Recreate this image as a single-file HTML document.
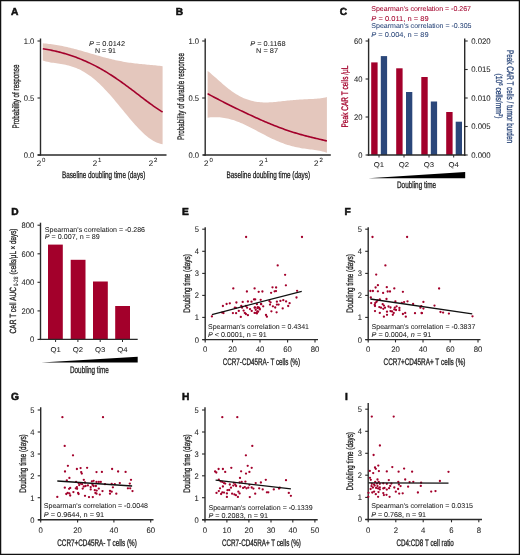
<!DOCTYPE html>
<html><head><meta charset="utf-8"><style>
html,body{margin:0;padding:0;background:#fff;}
body{width:520px;height:555px;overflow:hidden;}
svg{display:block;font-family:"Liberation Sans",sans-serif;will-change:transform;text-rendering:geometricPrecision;}
</style></head><body>
<svg width="520" height="555" viewBox="0 0 520 555">
<rect x="0" y="0" width="520" height="555" fill="#fff"/>
<text x="11" y="15.2" font-size="10.2" font-weight="bold" fill="#111" stroke="#111" stroke-width="0.55">A</text>
<polygon points="42.80,43.24 44.32,43.39 45.83,43.54 47.35,43.71 48.87,43.89 50.38,44.08 51.90,44.28 53.42,44.50 54.93,44.74 56.45,44.98 57.96,45.25 59.48,45.52 61.00,45.81 62.51,46.11 64.03,46.43 65.55,46.75 67.06,47.09 68.58,47.45 70.10,47.81 71.61,48.18 73.13,48.57 74.65,48.96 76.16,49.36 77.68,49.77 79.19,50.19 80.71,50.61 82.23,51.04 83.74,51.47 85.26,51.91 86.78,52.35 88.29,52.79 89.81,53.23 91.33,53.67 92.84,54.12 94.36,54.56 95.88,55.00 97.39,55.43 98.91,55.86 100.43,56.29 101.94,56.71 103.46,57.13 104.97,57.54 106.49,57.93 108.01,58.33 109.52,58.71 111.04,59.08 112.56,59.44 114.07,59.79 115.59,60.13 117.11,60.46 118.62,60.78 120.14,61.08 121.66,61.37 123.17,61.65 124.69,61.92 126.21,62.17 127.72,62.41 129.24,62.64 130.75,62.85 132.27,63.06 133.79,63.25 135.30,63.44 136.82,63.61 138.34,63.78 139.85,63.93 141.37,64.08 142.89,64.22 144.40,64.36 145.92,64.50 147.44,64.63 148.95,64.76 150.47,64.90 151.98,65.03 153.50,65.18 155.02,65.33 156.53,65.49 158.05,65.66 159.57,65.85 161.08,66.06 162.60,66.28 162.60,144.20 161.08,143.95 159.57,143.58 158.05,143.10 156.53,142.49 155.02,141.78 153.50,140.97 151.98,140.05 150.47,139.04 148.95,137.95 147.44,136.77 145.92,135.51 144.40,134.17 142.89,132.77 141.37,131.31 139.85,129.78 138.34,128.21 136.82,126.58 135.30,124.91 133.79,123.21 132.27,121.47 130.75,119.70 129.24,117.90 127.72,116.09 126.21,114.26 124.69,112.42 123.17,110.58 121.66,108.73 120.14,106.89 118.62,105.05 117.11,103.22 115.59,101.41 114.07,99.61 112.56,97.84 111.04,96.09 109.52,94.37 108.01,92.68 106.49,91.02 104.97,89.40 103.46,87.82 101.94,86.29 100.43,84.79 98.91,83.35 97.39,81.95 95.88,80.60 94.36,79.31 92.84,78.06 91.33,76.87 89.81,75.74 88.29,74.66 86.78,73.64 85.26,72.68 83.74,71.77 82.23,70.91 80.71,70.11 79.19,69.37 77.68,68.68 76.16,68.04 74.65,67.45 73.13,66.91 71.61,66.42 70.10,65.97 68.58,65.56 67.06,65.19 65.55,64.86 64.03,64.55 62.51,64.27 61.00,64.01 59.48,63.77 57.96,63.54 56.45,63.32 54.93,63.10 53.42,62.87 51.90,62.63 50.38,62.38 48.87,62.10 47.35,61.78 45.83,61.42 44.32,61.01 42.80,60.54" fill="#e4c7bd"/>
<polyline points="42.80,48.78 44.32,49.01 45.83,49.25 47.35,49.51 48.87,49.79 50.38,50.08 51.90,50.38 53.42,50.70 54.93,51.04 56.45,51.39 57.96,51.76 59.48,52.14 61.00,52.54 62.51,52.95 64.03,53.38 65.55,53.82 67.06,54.28 68.58,54.75 70.10,55.24 71.61,55.75 73.13,56.27 74.65,56.81 76.16,57.36 77.68,57.93 79.19,58.52 80.71,59.13 82.23,59.75 83.74,60.39 85.26,61.05 86.78,61.72 88.29,62.42 89.81,63.13 91.33,63.86 92.84,64.61 94.36,65.38 95.88,66.16 97.39,66.96 98.91,67.79 100.43,68.63 101.94,69.49 103.46,70.36 104.97,71.26 106.49,72.17 108.01,73.11 109.52,74.06 111.04,75.02 112.56,76.01 114.07,77.01 115.59,78.02 117.11,79.05 118.62,80.10 120.14,81.16 121.66,82.24 123.17,83.33 124.69,84.43 126.21,85.54 127.72,86.66 129.24,87.79 130.75,88.93 132.27,90.08 133.79,91.23 135.30,92.39 136.82,93.55 138.34,94.71 139.85,95.88 141.37,97.04 142.89,98.20 144.40,99.35 145.92,100.50 147.44,101.63 148.95,102.76 150.47,103.87 151.98,104.97 153.50,106.04 155.02,107.10 156.53,108.14 158.05,109.14 159.57,110.12 161.08,111.07 162.60,111.98" fill="none" stroke="#a3002b" stroke-width="1.6"/>
<line x1="40.50" y1="38.50" x2="40.50" y2="155.65" stroke="#2a2a2a" stroke-width="1.4"/>
<line x1="37.50" y1="41.00" x2="40.50" y2="41.00" stroke="#2a2a2a" stroke-width="1.1"/>
<text x="34.30" y="43.90" font-size="8.1" text-anchor="end" fill="#222" textLength="10.58" lengthAdjust="spacingAndGlyphs"  stroke="#222" stroke-width="0.05">1.0</text>
<line x1="37.50" y1="98.00" x2="40.50" y2="98.00" stroke="#2a2a2a" stroke-width="1.1"/>
<text x="34.30" y="100.90" font-size="8.1" text-anchor="end" fill="#222" textLength="10.58" lengthAdjust="spacingAndGlyphs"  stroke="#222" stroke-width="0.05">0.5</text>
<line x1="37.50" y1="155.00" x2="40.50" y2="155.00" stroke="#2a2a2a" stroke-width="1.1"/>
<text x="34.30" y="157.90" font-size="8.1" text-anchor="end" fill="#222" textLength="10.58" lengthAdjust="spacingAndGlyphs"  stroke="#222" stroke-width="0.05">0.0</text>
<line x1="37.70" y1="155.00" x2="166.50" y2="155.00" stroke="#2a2a2a" stroke-width="1.4"/>
<text x="41.20" y="165.80" font-size="8" fill="#222" text-anchor="end" stroke="#222" stroke-width="0.05">2</text>
<text x="42.10" y="162.10" font-size="6" fill="#222" stroke="#222" stroke-width="0.05">0</text>
<text x="97.20" y="165.80" font-size="8" fill="#222" text-anchor="end" stroke="#222" stroke-width="0.05">2</text>
<text x="98.10" y="162.10" font-size="6" fill="#222" stroke="#222" stroke-width="0.05">1</text>
<text x="153.20" y="165.80" font-size="8" fill="#222" text-anchor="end" stroke="#222" stroke-width="0.05">2</text>
<text x="154.10" y="162.10" font-size="6" fill="#222" stroke="#222" stroke-width="0.05">2</text>
<text x="61.90" y="178.00" font-size="9.5" text-anchor="start" fill="#222" textLength="83.50" lengthAdjust="spacingAndGlyphs"  stroke="#222" stroke-width="0.3">Baseline doubling time (days)</text>
<text transform="translate(19.20,96.50) rotate(-90)" x="0" y="0" font-size="9.5" text-anchor="middle" fill="#222" textLength="64.00" lengthAdjust="spacingAndGlyphs" stroke="#222" stroke-width="0.3">Probability of response</text>
<text x="89" y="45.7" font-size="7" fill="#222" textLength="36" lengthAdjust="spacingAndGlyphs" stroke="#222" stroke-width="0.05"><tspan font-style="italic">P</tspan> = 0.0142</text>
<text x="95.00" y="52.60" font-size="7" text-anchor="start" fill="#222" textLength="21.00" lengthAdjust="spacingAndGlyphs"  stroke="#222" stroke-width="0.05">N = 91</text>
<text x="175.8" y="15.2" font-size="10.2" font-weight="bold" fill="#111" stroke="#111" stroke-width="0.55">B</text>
<polygon points="207.60,70.93 209.11,72.12 210.62,73.36 212.13,74.63 213.64,75.94 215.15,77.27 216.66,78.60 218.17,79.94 219.68,81.28 221.19,82.61 222.70,83.92 224.21,85.20 225.72,86.46 227.23,87.69 228.74,88.88 230.25,90.03 231.76,91.13 233.27,92.19 234.78,93.20 236.29,94.16 237.80,95.07 239.31,95.92 240.82,96.72 242.33,97.46 243.84,98.15 245.35,98.78 246.86,99.35 248.37,99.87 249.88,100.34 251.39,100.76 252.90,101.12 254.41,101.44 255.92,101.71 257.43,101.93 258.94,102.11 260.45,102.25 261.96,102.35 263.47,102.41 264.98,102.44 266.49,102.44 268.01,102.41 269.52,102.35 271.03,102.27 272.54,102.17 274.05,102.05 275.56,101.92 277.07,101.78 278.58,101.62 280.09,101.46 281.60,101.29 283.11,101.12 284.62,100.95 286.13,100.78 287.64,100.62 289.15,100.46 290.66,100.30 292.17,100.15 293.68,100.02 295.19,99.89 296.70,99.77 298.21,99.66 299.72,99.56 301.23,99.47 302.74,99.38 304.25,99.31 305.76,99.24 307.27,99.18 308.78,99.11 310.29,99.05 311.80,98.98 313.31,98.90 314.82,98.81 316.33,98.71 317.84,98.58 319.35,98.43 320.86,98.24 322.37,98.01 323.88,97.73 325.39,97.40 326.90,97.01 326.90,152.68 325.39,152.19 323.88,151.77 322.37,151.39 320.86,151.06 319.35,150.76 317.84,150.49 316.33,150.25 314.82,150.03 313.31,149.82 311.80,149.62 310.29,149.43 308.78,149.23 307.27,149.03 305.76,148.82 304.25,148.61 302.74,148.38 301.23,148.13 299.72,147.87 298.21,147.58 296.70,147.27 295.19,146.94 293.68,146.59 292.17,146.21 290.66,145.80 289.15,145.37 287.64,144.91 286.13,144.42 284.62,143.90 283.11,143.36 281.60,142.79 280.09,142.20 278.58,141.58 277.07,140.94 275.56,140.27 274.05,139.59 272.54,138.88 271.03,138.16 269.52,137.42 268.01,136.66 266.49,135.89 264.98,135.11 263.47,134.33 261.96,133.53 260.45,132.73 258.94,131.93 257.43,131.13 255.92,130.33 254.41,129.53 252.90,128.74 251.39,127.96 249.88,127.20 248.37,126.44 246.86,125.70 245.35,124.98 243.84,124.28 242.33,123.60 240.82,122.95 239.31,122.32 237.80,121.72 236.29,121.15 234.78,120.62 233.27,120.12 231.76,119.65 230.25,119.22 228.74,118.83 227.23,118.48 225.72,118.16 224.21,117.89 222.70,117.66 221.19,117.48 219.68,117.34 218.17,117.23 216.66,117.18 215.15,117.16 213.64,117.19 212.13,117.26 210.62,117.36 209.11,117.51 207.60,117.70" fill="#e4c7bd"/>
<polyline points="207.60,93.66 209.11,94.50 210.62,95.33 212.13,96.15 213.64,96.95 215.15,97.75 216.66,98.55 218.17,99.33 219.68,100.11 221.19,100.89 222.70,101.66 224.21,102.42 225.72,103.18 227.23,103.94 228.74,104.69 230.25,105.44 231.76,106.19 233.27,106.93 234.78,107.67 236.29,108.41 237.80,109.14 239.31,109.87 240.82,110.60 242.33,111.32 243.84,112.04 245.35,112.76 246.86,113.48 248.37,114.19 249.88,114.89 251.39,115.59 252.90,116.29 254.41,116.98 255.92,117.67 257.43,118.35 258.94,119.03 260.45,119.70 261.96,120.36 263.47,121.02 264.98,121.67 266.49,122.32 268.01,122.95 269.52,123.58 271.03,124.20 272.54,124.82 274.05,125.42 275.56,126.02 277.07,126.60 278.58,127.18 280.09,127.75 281.60,128.30 283.11,128.85 284.62,129.39 286.13,129.92 287.64,130.43 289.15,130.94 290.66,131.44 292.17,131.92 293.68,132.40 295.19,132.87 296.70,133.32 298.21,133.77 299.72,134.20 301.23,134.63 302.74,135.05 304.25,135.46 305.76,135.86 307.27,136.25 308.78,136.64 310.29,137.02 311.80,137.39 313.31,137.76 314.82,138.12 316.33,138.48 317.84,138.84 319.35,139.19 320.86,139.55 322.37,139.90 323.88,140.25 325.39,140.61 326.90,140.98" fill="none" stroke="#a3002b" stroke-width="1.6"/>
<line x1="205.20" y1="38.50" x2="205.20" y2="155.65" stroke="#2a2a2a" stroke-width="1.4"/>
<line x1="202.20" y1="41.00" x2="205.20" y2="41.00" stroke="#2a2a2a" stroke-width="1.1"/>
<text x="199.00" y="43.90" font-size="8.1" text-anchor="end" fill="#222" textLength="10.58" lengthAdjust="spacingAndGlyphs"  stroke="#222" stroke-width="0.05">1.0</text>
<line x1="202.20" y1="98.00" x2="205.20" y2="98.00" stroke="#2a2a2a" stroke-width="1.1"/>
<text x="199.00" y="100.90" font-size="8.1" text-anchor="end" fill="#222" textLength="10.58" lengthAdjust="spacingAndGlyphs"  stroke="#222" stroke-width="0.05">0.5</text>
<line x1="202.20" y1="155.00" x2="205.20" y2="155.00" stroke="#2a2a2a" stroke-width="1.1"/>
<text x="199.00" y="157.90" font-size="8.1" text-anchor="end" fill="#222" textLength="10.58" lengthAdjust="spacingAndGlyphs"  stroke="#222" stroke-width="0.05">0.0</text>
<line x1="203.20" y1="155.00" x2="330.80" y2="155.00" stroke="#2a2a2a" stroke-width="1.4"/>
<text x="208.50" y="165.80" font-size="8" fill="#222" text-anchor="end" stroke="#222" stroke-width="0.05">2</text>
<text x="209.40" y="162.10" font-size="6" fill="#222" stroke="#222" stroke-width="0.05">0</text>
<text x="263.50" y="165.80" font-size="8" fill="#222" text-anchor="end" stroke="#222" stroke-width="0.05">2</text>
<text x="264.40" y="162.10" font-size="6" fill="#222" stroke="#222" stroke-width="0.05">1</text>
<text x="318.50" y="165.80" font-size="8" fill="#222" text-anchor="end" stroke="#222" stroke-width="0.05">2</text>
<text x="319.40" y="162.10" font-size="6" fill="#222" stroke="#222" stroke-width="0.05">2</text>
<text x="226.50" y="178.00" font-size="9.5" text-anchor="start" fill="#222" textLength="83.50" lengthAdjust="spacingAndGlyphs"  stroke="#222" stroke-width="0.3">Baseline doubling time (days)</text>
<text transform="translate(183.80,96.50) rotate(-90)" x="0" y="0" font-size="9.5" text-anchor="middle" fill="#222" textLength="87.00" lengthAdjust="spacingAndGlyphs" stroke="#222" stroke-width="0.3">Probability of durable response</text>
<text x="250.2" y="45.7" font-size="7" fill="#222" textLength="35.4" lengthAdjust="spacingAndGlyphs" stroke="#222" stroke-width="0.05"><tspan font-style="italic">P</tspan> = 0.1168</text>
<text x="256.00" y="53.30" font-size="7" text-anchor="start" fill="#222" textLength="22.00" lengthAdjust="spacingAndGlyphs"  stroke="#222" stroke-width="0.05">N = 87</text>
<text x="339.7" y="15.2" font-size="10.2" font-weight="bold" fill="#111" stroke="#111" stroke-width="0.55">C</text>
<text x="371.3" y="11.4" font-size="7" fill="#a3002b" textLength="99.7" lengthAdjust="spacingAndGlyphs" stroke="#a3002b" stroke-width="0.05">Spearman's correlation = -0.267</text>
<text x="371.3" y="20.5" font-size="7" fill="#a3002b" textLength="57.3" lengthAdjust="spacingAndGlyphs" stroke="#a3002b" stroke-width="0.05"><tspan font-style="italic">P</tspan> = 0.011, n = 89</text>
<text x="371.3" y="28.1" font-size="7" fill="#2b477a" textLength="100.2" lengthAdjust="spacingAndGlyphs" stroke="#2b477a" stroke-width="0.05">Spearman's correlation = -0.305</text>
<text x="371.3" y="36.6" font-size="7" fill="#2b477a" textLength="57.3" lengthAdjust="spacingAndGlyphs" stroke="#2b477a" stroke-width="0.05"><tspan font-style="italic">P</tspan> = 0.004, n = 89</text>
<rect x="371.2" y="62.4" width="6.4" height="92.6" fill="#a3002b"/>
<rect x="380.8" y="56.1" width="6.3" height="98.9" fill="#2b477a"/>
<rect x="396.2" y="68.3" width="6.4" height="86.7" fill="#a3002b"/>
<rect x="406.0" y="92.0" width="6.3" height="63.0" fill="#2b477a"/>
<rect x="421.3" y="77.0" width="6.4" height="78.0" fill="#a3002b"/>
<rect x="430.8" y="101.5" width="6.3" height="53.5" fill="#2b477a"/>
<rect x="446.2" y="112.0" width="6.4" height="43.0" fill="#a3002b"/>
<rect x="455.7" y="121.7" width="6.3" height="33.3" fill="#2b477a"/>
<line x1="368.60" y1="38.50" x2="368.60" y2="155.65" stroke="#2a2a2a" stroke-width="1.4"/>
<line x1="365.60" y1="41.00" x2="368.60" y2="41.00" stroke="#2a2a2a" stroke-width="1.1"/>
<text x="362.40" y="43.90" font-size="8.1" text-anchor="end" fill="#222" textLength="8.47" lengthAdjust="spacingAndGlyphs"  stroke="#222" stroke-width="0.05">60</text>
<line x1="365.60" y1="79.00" x2="368.60" y2="79.00" stroke="#2a2a2a" stroke-width="1.1"/>
<text x="362.40" y="81.90" font-size="8.1" text-anchor="end" fill="#222" textLength="8.47" lengthAdjust="spacingAndGlyphs"  stroke="#222" stroke-width="0.05">40</text>
<line x1="365.60" y1="117.00" x2="368.60" y2="117.00" stroke="#2a2a2a" stroke-width="1.1"/>
<text x="362.40" y="119.90" font-size="8.1" text-anchor="end" fill="#222" textLength="8.47" lengthAdjust="spacingAndGlyphs"  stroke="#222" stroke-width="0.05">20</text>
<line x1="365.60" y1="155.00" x2="368.60" y2="155.00" stroke="#2a2a2a" stroke-width="1.1"/>
<text x="362.40" y="157.90" font-size="8.1" text-anchor="end" fill="#222" textLength="4.23" lengthAdjust="spacingAndGlyphs"  stroke="#222" stroke-width="0.05">0</text>
<line x1="464.70" y1="38.50" x2="464.70" y2="155.65" stroke="#2a2a2a" stroke-width="1.4"/>
<line x1="464.70" y1="41.00" x2="467.70" y2="41.00" stroke="#2a2a2a" stroke-width="1.1"/>
<text x="471.20" y="43.90" font-size="8.1" text-anchor="start" fill="#222" textLength="19.46" lengthAdjust="spacingAndGlyphs"  stroke="#222" stroke-width="0.05">0.020</text>
<line x1="464.70" y1="69.50" x2="467.70" y2="69.50" stroke="#2a2a2a" stroke-width="1.1"/>
<text x="471.20" y="72.40" font-size="8.1" text-anchor="start" fill="#222" textLength="19.46" lengthAdjust="spacingAndGlyphs"  stroke="#222" stroke-width="0.05">0.015</text>
<line x1="464.70" y1="98.00" x2="467.70" y2="98.00" stroke="#2a2a2a" stroke-width="1.1"/>
<text x="471.20" y="100.90" font-size="8.1" text-anchor="start" fill="#222" textLength="19.46" lengthAdjust="spacingAndGlyphs"  stroke="#222" stroke-width="0.05">0.010</text>
<line x1="464.70" y1="126.50" x2="467.70" y2="126.50" stroke="#2a2a2a" stroke-width="1.1"/>
<text x="471.20" y="129.40" font-size="8.1" text-anchor="start" fill="#222" textLength="19.46" lengthAdjust="spacingAndGlyphs"  stroke="#222" stroke-width="0.05">0.005</text>
<line x1="464.70" y1="155.00" x2="467.70" y2="155.00" stroke="#2a2a2a" stroke-width="1.1"/>
<text x="471.20" y="157.90" font-size="8.1" text-anchor="start" fill="#222" textLength="19.46" lengthAdjust="spacingAndGlyphs"  stroke="#222" stroke-width="0.05">0.000</text>
<line x1="367.60" y1="155.00" x2="465.40" y2="155.00" stroke="#2a2a2a" stroke-width="1.4"/>
<line x1="379.00" y1="155.00" x2="379.00" y2="157.50" stroke="#2a2a2a" stroke-width="1.0"/>
<text x="379.00" y="166.70" font-size="7" text-anchor="middle" fill="#222" textLength="10.30" lengthAdjust="spacingAndGlyphs"  stroke="#222" stroke-width="0.05">Q1</text>
<line x1="404.00" y1="155.00" x2="404.00" y2="157.50" stroke="#2a2a2a" stroke-width="1.0"/>
<text x="404.00" y="166.70" font-size="7" text-anchor="middle" fill="#222" textLength="10.30" lengthAdjust="spacingAndGlyphs"  stroke="#222" stroke-width="0.05">Q2</text>
<line x1="429.00" y1="155.00" x2="429.00" y2="157.50" stroke="#2a2a2a" stroke-width="1.0"/>
<text x="429.00" y="166.70" font-size="7" text-anchor="middle" fill="#222" textLength="10.30" lengthAdjust="spacingAndGlyphs"  stroke="#222" stroke-width="0.05">Q3</text>
<line x1="453.70" y1="155.00" x2="453.70" y2="157.50" stroke="#2a2a2a" stroke-width="1.0"/>
<text x="453.70" y="166.70" font-size="7" text-anchor="middle" fill="#222" textLength="10.30" lengthAdjust="spacingAndGlyphs"  stroke="#222" stroke-width="0.05">Q4</text>
<polygon points="368.3,178.2 465.2,172 465.2,178.2" fill="#000"/>
<text x="397.00" y="188.30" font-size="9.5" text-anchor="start" fill="#222" textLength="39.00" lengthAdjust="spacingAndGlyphs"  stroke="#222" stroke-width="0.3">Doubling time</text>
<text transform="translate(347.70,96.50) rotate(-90)" x="0" y="0" font-size="9.5" text-anchor="middle" fill="#a3002b" textLength="62.00" lengthAdjust="spacingAndGlyphs" stroke="#a3002b" stroke-width="0.3">Peak CAR T cells /μL</text>
<text transform="translate(506.90,96.50) rotate(90)" x="0" y="0" font-size="9.5" text-anchor="middle" fill="#2b477a" textLength="93.00" lengthAdjust="spacingAndGlyphs" stroke="#2b477a" stroke-width="0.3">Peak CAR T cells / tumor burden</text>
<text transform="translate(495.8,96) rotate(90)" x="0" y="0" font-size="9" text-anchor="middle" fill="#2b477a" textLength="45" lengthAdjust="spacingAndGlyphs" stroke="#2b477a" stroke-width="0.3">(10<tspan font-size="5.5" dy="-3">6</tspan><tspan dy="3"> cells/mm</tspan><tspan font-size="5.5" dy="-3">2</tspan><tspan dy="3">)</tspan></text>
<text x="11.3" y="215.4" font-size="10.2" font-weight="bold" fill="#111" stroke="#111" stroke-width="0.55">D</text>
<rect x="48" y="244.6" width="14.8" height="94.79999999999998" fill="#a3002b"/>
<rect x="70.7" y="259.8" width="14.8" height="79.59999999999997" fill="#a3002b"/>
<rect x="93" y="281.5" width="14.8" height="57.89999999999998" fill="#a3002b"/>
<rect x="115.2" y="306" width="14.8" height="33.39999999999998" fill="#a3002b"/>
<line x1="40.50" y1="222.70" x2="40.50" y2="340.05" stroke="#2a2a2a" stroke-width="1.4"/>
<line x1="37.50" y1="225.20" x2="40.50" y2="225.20" stroke="#2a2a2a" stroke-width="1.1"/>
<text x="34.30" y="228.10" font-size="8.1" text-anchor="end" fill="#222" textLength="12.70" lengthAdjust="spacingAndGlyphs"  stroke="#222" stroke-width="0.05">800</text>
<line x1="37.50" y1="253.80" x2="40.50" y2="253.80" stroke="#2a2a2a" stroke-width="1.1"/>
<text x="34.30" y="256.70" font-size="8.1" text-anchor="end" fill="#222" textLength="12.70" lengthAdjust="spacingAndGlyphs"  stroke="#222" stroke-width="0.05">600</text>
<line x1="37.50" y1="282.30" x2="40.50" y2="282.30" stroke="#2a2a2a" stroke-width="1.1"/>
<text x="34.30" y="285.20" font-size="8.1" text-anchor="end" fill="#222" textLength="12.70" lengthAdjust="spacingAndGlyphs"  stroke="#222" stroke-width="0.05">400</text>
<line x1="37.50" y1="310.90" x2="40.50" y2="310.90" stroke="#2a2a2a" stroke-width="1.1"/>
<text x="34.30" y="313.80" font-size="8.1" text-anchor="end" fill="#222" textLength="12.70" lengthAdjust="spacingAndGlyphs"  stroke="#222" stroke-width="0.05">200</text>
<line x1="37.50" y1="339.40" x2="40.50" y2="339.40" stroke="#2a2a2a" stroke-width="1.1"/>
<text x="34.30" y="342.30" font-size="8.1" text-anchor="end" fill="#222" textLength="4.23" lengthAdjust="spacingAndGlyphs"  stroke="#222" stroke-width="0.05">0</text>
<line x1="39.50" y1="339.40" x2="137.70" y2="339.40" stroke="#2a2a2a" stroke-width="1.4"/>
<line x1="55.60" y1="339.40" x2="55.60" y2="342.00" stroke="#2a2a2a" stroke-width="1.0"/>
<text x="55.60" y="351.70" font-size="7" text-anchor="middle" fill="#222" textLength="10.30" lengthAdjust="spacingAndGlyphs"  stroke="#222" stroke-width="0.05">Q1</text>
<line x1="77.90" y1="339.40" x2="77.90" y2="342.00" stroke="#2a2a2a" stroke-width="1.0"/>
<text x="77.90" y="351.70" font-size="7" text-anchor="middle" fill="#222" textLength="10.30" lengthAdjust="spacingAndGlyphs"  stroke="#222" stroke-width="0.05">Q2</text>
<line x1="100.20" y1="339.40" x2="100.20" y2="342.00" stroke="#2a2a2a" stroke-width="1.0"/>
<text x="100.20" y="351.70" font-size="7" text-anchor="middle" fill="#222" textLength="10.30" lengthAdjust="spacingAndGlyphs"  stroke="#222" stroke-width="0.05">Q3</text>
<line x1="122.50" y1="339.40" x2="122.50" y2="342.00" stroke="#2a2a2a" stroke-width="1.0"/>
<text x="122.50" y="351.70" font-size="7" text-anchor="middle" fill="#222" textLength="10.30" lengthAdjust="spacingAndGlyphs"  stroke="#222" stroke-width="0.05">Q4</text>
<polygon points="41.3,362.5 137.7,356.8 137.7,362.5" fill="#000"/>
<text x="70.00" y="373.30" font-size="9.5" text-anchor="start" fill="#222" textLength="38.80" lengthAdjust="spacingAndGlyphs"  stroke="#222" stroke-width="0.3">Doubling time</text>
<text x="44.80" y="232.00" font-size="7" text-anchor="start" fill="#222" textLength="100.20" lengthAdjust="spacingAndGlyphs"  stroke="#222" stroke-width="0.05">Spearman's correlation = -0.286</text>
<text x="44.8" y="239.2" font-size="7" fill="#222" textLength="55" lengthAdjust="spacingAndGlyphs" stroke="#222" stroke-width="0.05"><tspan font-style="italic">P</tspan> = 0.007, n = 89</text>
<text transform="translate(16.2,333.4) rotate(-90)" font-size="9" fill="#222" textLength="46.4" lengthAdjust="spacingAndGlyphs" stroke="#222" stroke-width="0.3">CAR T cell AUC</text>
<text transform="translate(18.2,286.3) rotate(-90)" font-size="6.3" fill="#222" textLength="9.6" lengthAdjust="spacingAndGlyphs" stroke="#222" stroke-width="0.05">0-28</text>
<text transform="translate(16.2,274.6) rotate(-90)" font-size="9" fill="#222" textLength="46" lengthAdjust="spacingAndGlyphs" stroke="#222" stroke-width="0.3">(cells/μL × days)</text>
<text x="182" y="215.4" font-size="10.2" font-weight="bold" fill="#111" stroke="#111" stroke-width="0.55">E</text>
<line x1="205.20" y1="227.20" x2="205.20" y2="340.25" stroke="#2a2a2a" stroke-width="1.4"/>
<line x1="202.20" y1="229.20" x2="205.20" y2="229.20" stroke="#2a2a2a" stroke-width="1.1"/>
<text x="199.00" y="232.10" font-size="8.1" text-anchor="end" fill="#222" textLength="4.23" lengthAdjust="spacingAndGlyphs"  stroke="#222" stroke-width="0.05">5</text>
<line x1="202.20" y1="251.30" x2="205.20" y2="251.30" stroke="#2a2a2a" stroke-width="1.1"/>
<text x="199.00" y="254.20" font-size="8.1" text-anchor="end" fill="#222" textLength="4.23" lengthAdjust="spacingAndGlyphs"  stroke="#222" stroke-width="0.05">4</text>
<line x1="202.20" y1="273.40" x2="205.20" y2="273.40" stroke="#2a2a2a" stroke-width="1.1"/>
<text x="199.00" y="276.30" font-size="8.1" text-anchor="end" fill="#222" textLength="4.23" lengthAdjust="spacingAndGlyphs"  stroke="#222" stroke-width="0.05">3</text>
<line x1="202.20" y1="295.40" x2="205.20" y2="295.40" stroke="#2a2a2a" stroke-width="1.1"/>
<text x="199.00" y="298.30" font-size="8.1" text-anchor="end" fill="#222" textLength="4.23" lengthAdjust="spacingAndGlyphs"  stroke="#222" stroke-width="0.05">2</text>
<line x1="202.20" y1="317.40" x2="205.20" y2="317.40" stroke="#2a2a2a" stroke-width="1.1"/>
<text x="199.00" y="320.30" font-size="8.1" text-anchor="end" fill="#222" textLength="4.23" lengthAdjust="spacingAndGlyphs"  stroke="#222" stroke-width="0.05">1</text>
<line x1="202.20" y1="339.60" x2="205.20" y2="339.60" stroke="#2a2a2a" stroke-width="1.1"/>
<text x="199.00" y="342.50" font-size="8.1" text-anchor="end" fill="#222" textLength="4.23" lengthAdjust="spacingAndGlyphs"  stroke="#222" stroke-width="0.05">0</text>
<line x1="202.40" y1="339.60" x2="318.00" y2="339.60" stroke="#2a2a2a" stroke-width="1.4"/>
<line x1="205.20" y1="339.60" x2="205.20" y2="342.40" stroke="#2a2a2a" stroke-width="1.1"/>
<text x="205.20" y="351.90" font-size="8.1" text-anchor="middle" fill="#222" textLength="4.32" lengthAdjust="spacingAndGlyphs"  stroke="#222" stroke-width="0.05">0</text>
<line x1="232.50" y1="339.60" x2="232.50" y2="342.40" stroke="#2a2a2a" stroke-width="1.1"/>
<text x="232.50" y="351.90" font-size="8.1" text-anchor="middle" fill="#222" textLength="8.65" lengthAdjust="spacingAndGlyphs"  stroke="#222" stroke-width="0.05">20</text>
<line x1="260.00" y1="339.60" x2="260.00" y2="342.40" stroke="#2a2a2a" stroke-width="1.1"/>
<text x="260.00" y="351.90" font-size="8.1" text-anchor="middle" fill="#222" textLength="8.65" lengthAdjust="spacingAndGlyphs"  stroke="#222" stroke-width="0.05">40</text>
<line x1="287.60" y1="339.60" x2="287.60" y2="342.40" stroke="#2a2a2a" stroke-width="1.1"/>
<text x="287.60" y="351.90" font-size="8.1" text-anchor="middle" fill="#222" textLength="8.65" lengthAdjust="spacingAndGlyphs"  stroke="#222" stroke-width="0.05">60</text>
<line x1="315.00" y1="339.60" x2="315.00" y2="342.40" stroke="#2a2a2a" stroke-width="1.1"/>
<text x="315.00" y="351.90" font-size="8.1" text-anchor="middle" fill="#222" textLength="8.65" lengthAdjust="spacingAndGlyphs"  stroke="#222" stroke-width="0.05">80</text>
<text x="222.70" y="364.90" font-size="9.5" text-anchor="start" fill="#222" textLength="77.30" lengthAdjust="spacingAndGlyphs"  stroke="#222" stroke-width="0.3">CCR7-CD45RA- T cells (%)</text>
<text transform="translate(189.60,283.40) rotate(-90)" x="0" y="0" font-size="9.5" text-anchor="middle" fill="#222" textLength="58.50" lengthAdjust="spacingAndGlyphs" stroke="#222" stroke-width="0.3">Doubling time (days)</text>
<circle cx="246.10" cy="237.00" r="1.15" fill="#a3002b"/>
<circle cx="302.00" cy="237.00" r="1.15" fill="#a3002b"/>
<circle cx="277.70" cy="265.40" r="1.15" fill="#a3002b"/>
<circle cx="285.10" cy="274.80" r="1.15" fill="#a3002b"/>
<circle cx="233.30" cy="288.40" r="1.15" fill="#a3002b"/>
<circle cx="254.60" cy="288.40" r="1.15" fill="#a3002b"/>
<circle cx="246.90" cy="291.50" r="1.15" fill="#a3002b"/>
<circle cx="258.70" cy="291.80" r="1.15" fill="#a3002b"/>
<circle cx="262.40" cy="291.50" r="1.15" fill="#a3002b"/>
<circle cx="222.90" cy="306.00" r="1.15" fill="#a3002b"/>
<circle cx="226.60" cy="304.00" r="1.15" fill="#a3002b"/>
<circle cx="229.80" cy="303.30" r="1.15" fill="#a3002b"/>
<circle cx="236.40" cy="302.50" r="1.15" fill="#a3002b"/>
<circle cx="242.70" cy="301.90" r="1.15" fill="#a3002b"/>
<circle cx="247.90" cy="301.50" r="1.15" fill="#a3002b"/>
<circle cx="251.50" cy="301.70" r="1.15" fill="#a3002b"/>
<circle cx="254.00" cy="299.40" r="1.15" fill="#a3002b"/>
<circle cx="255.20" cy="299.40" r="1.15" fill="#a3002b"/>
<circle cx="260.70" cy="299.80" r="1.15" fill="#a3002b"/>
<circle cx="211.90" cy="316.40" r="1.15" fill="#a3002b"/>
<circle cx="222.10" cy="312.60" r="1.15" fill="#a3002b"/>
<circle cx="223.50" cy="313.10" r="1.15" fill="#a3002b"/>
<circle cx="232.90" cy="313.10" r="1.15" fill="#a3002b"/>
<circle cx="236.10" cy="313.20" r="1.15" fill="#a3002b"/>
<circle cx="234.80" cy="307.70" r="1.15" fill="#a3002b"/>
<circle cx="235.90" cy="307.90" r="1.15" fill="#a3002b"/>
<circle cx="238.80" cy="310.90" r="1.15" fill="#a3002b"/>
<circle cx="240.80" cy="316.90" r="1.15" fill="#a3002b"/>
<circle cx="241.30" cy="306.00" r="1.15" fill="#a3002b"/>
<circle cx="242.10" cy="307.70" r="1.15" fill="#a3002b"/>
<circle cx="243.60" cy="310.60" r="1.15" fill="#a3002b"/>
<circle cx="244.80" cy="312.90" r="1.15" fill="#a3002b"/>
<circle cx="245.90" cy="314.00" r="1.15" fill="#a3002b"/>
<circle cx="247.90" cy="315.20" r="1.15" fill="#a3002b"/>
<circle cx="245.90" cy="306.00" r="1.15" fill="#a3002b"/>
<circle cx="247.10" cy="307.70" r="1.15" fill="#a3002b"/>
<circle cx="250.00" cy="309.10" r="1.15" fill="#a3002b"/>
<circle cx="251.70" cy="310.90" r="1.15" fill="#a3002b"/>
<circle cx="254.60" cy="307.70" r="1.15" fill="#a3002b"/>
<circle cx="255.70" cy="309.80" r="1.15" fill="#a3002b"/>
<circle cx="256.90" cy="304.20" r="1.15" fill="#a3002b"/>
<circle cx="257.80" cy="307.10" r="1.15" fill="#a3002b"/>
<circle cx="259.00" cy="307.70" r="1.15" fill="#a3002b"/>
<circle cx="259.80" cy="309.40" r="1.15" fill="#a3002b"/>
<circle cx="254.60" cy="312.90" r="1.15" fill="#a3002b"/>
<circle cx="256.90" cy="313.40" r="1.15" fill="#a3002b"/>
<circle cx="258.10" cy="311.70" r="1.15" fill="#a3002b"/>
<circle cx="261.20" cy="304.20" r="1.15" fill="#a3002b"/>
<circle cx="263.20" cy="306.30" r="1.15" fill="#a3002b"/>
<circle cx="285.90" cy="285.30" r="1.15" fill="#a3002b"/>
<circle cx="272.50" cy="287.30" r="1.15" fill="#a3002b"/>
<circle cx="276.10" cy="287.50" r="1.15" fill="#a3002b"/>
<circle cx="274.60" cy="291.30" r="1.15" fill="#a3002b"/>
<circle cx="276.00" cy="291.10" r="1.15" fill="#a3002b"/>
<circle cx="271.10" cy="292.80" r="1.15" fill="#a3002b"/>
<circle cx="297.10" cy="290.80" r="1.15" fill="#a3002b"/>
<circle cx="296.50" cy="297.50" r="1.15" fill="#a3002b"/>
<circle cx="269.40" cy="301.10" r="1.15" fill="#a3002b"/>
<circle cx="270.60" cy="302.30" r="1.15" fill="#a3002b"/>
<circle cx="276.90" cy="301.70" r="1.15" fill="#a3002b"/>
<circle cx="280.40" cy="300.90" r="1.15" fill="#a3002b"/>
<circle cx="283.30" cy="300.20" r="1.15" fill="#a3002b"/>
<circle cx="286.10" cy="301.40" r="1.15" fill="#a3002b"/>
<circle cx="289.60" cy="303.20" r="1.15" fill="#a3002b"/>
<circle cx="288.20" cy="306.00" r="1.15" fill="#a3002b"/>
<circle cx="282.70" cy="308.40" r="1.15" fill="#a3002b"/>
<circle cx="270.00" cy="304.60" r="1.15" fill="#a3002b"/>
<circle cx="272.90" cy="306.30" r="1.15" fill="#a3002b"/>
<circle cx="275.20" cy="307.50" r="1.15" fill="#a3002b"/>
<circle cx="276.90" cy="304.60" r="1.15" fill="#a3002b"/>
<circle cx="278.60" cy="304.60" r="1.15" fill="#a3002b"/>
<circle cx="271.40" cy="311.30" r="1.15" fill="#a3002b"/>
<circle cx="276.60" cy="312.30" r="1.15" fill="#a3002b"/>
<circle cx="266.00" cy="315.00" r="1.15" fill="#a3002b"/>
<circle cx="266.90" cy="316.70" r="1.15" fill="#a3002b"/>
<circle cx="257.30" cy="308.10" r="1.15" fill="#a3002b"/>
<circle cx="259.60" cy="308.60" r="1.15" fill="#a3002b"/>
<circle cx="257.30" cy="311.50" r="1.15" fill="#a3002b"/>
<circle cx="256.20" cy="312.90" r="1.15" fill="#a3002b"/>
<circle cx="255.00" cy="307.50" r="1.15" fill="#a3002b"/>
<circle cx="261.00" cy="304.00" r="1.15" fill="#a3002b"/>
<line x1="211.90" y1="314.60" x2="301.70" y2="291.30" stroke="#111" stroke-width="1.3"/>
<text x="208.00" y="328.90" font-size="7" text-anchor="start" fill="#222" textLength="101.00" lengthAdjust="spacingAndGlyphs"  stroke="#222" stroke-width="0.05">Spearman's correlation = 0.4341</text>
<text x="208" y="337.0" font-size="7" fill="#222" textLength="58.7" lengthAdjust="spacingAndGlyphs" stroke="#222" stroke-width="0.05"><tspan font-style="italic">P</tspan> &lt; 0.0001, n = 91</text>
<text x="344.6" y="215.4" font-size="10.2" font-weight="bold" fill="#111" stroke="#111" stroke-width="0.55">F</text>
<line x1="368.20" y1="227.20" x2="368.20" y2="340.25" stroke="#2a2a2a" stroke-width="1.4"/>
<line x1="365.20" y1="229.20" x2="368.20" y2="229.20" stroke="#2a2a2a" stroke-width="1.1"/>
<text x="362.00" y="232.10" font-size="8.1" text-anchor="end" fill="#222" textLength="4.23" lengthAdjust="spacingAndGlyphs"  stroke="#222" stroke-width="0.05">5</text>
<line x1="365.20" y1="251.30" x2="368.20" y2="251.30" stroke="#2a2a2a" stroke-width="1.1"/>
<text x="362.00" y="254.20" font-size="8.1" text-anchor="end" fill="#222" textLength="4.23" lengthAdjust="spacingAndGlyphs"  stroke="#222" stroke-width="0.05">4</text>
<line x1="365.20" y1="273.40" x2="368.20" y2="273.40" stroke="#2a2a2a" stroke-width="1.1"/>
<text x="362.00" y="276.30" font-size="8.1" text-anchor="end" fill="#222" textLength="4.23" lengthAdjust="spacingAndGlyphs"  stroke="#222" stroke-width="0.05">3</text>
<line x1="365.20" y1="295.40" x2="368.20" y2="295.40" stroke="#2a2a2a" stroke-width="1.1"/>
<text x="362.00" y="298.30" font-size="8.1" text-anchor="end" fill="#222" textLength="4.23" lengthAdjust="spacingAndGlyphs"  stroke="#222" stroke-width="0.05">2</text>
<line x1="365.20" y1="317.40" x2="368.20" y2="317.40" stroke="#2a2a2a" stroke-width="1.1"/>
<text x="362.00" y="320.30" font-size="8.1" text-anchor="end" fill="#222" textLength="4.23" lengthAdjust="spacingAndGlyphs"  stroke="#222" stroke-width="0.05">1</text>
<line x1="365.20" y1="339.60" x2="368.20" y2="339.60" stroke="#2a2a2a" stroke-width="1.1"/>
<text x="362.00" y="342.50" font-size="8.1" text-anchor="end" fill="#222" textLength="4.23" lengthAdjust="spacingAndGlyphs"  stroke="#222" stroke-width="0.05">0</text>
<line x1="365.40" y1="339.60" x2="480.50" y2="339.60" stroke="#2a2a2a" stroke-width="1.4"/>
<line x1="368.20" y1="339.60" x2="368.20" y2="342.40" stroke="#2a2a2a" stroke-width="1.1"/>
<text x="368.20" y="351.90" font-size="8.1" text-anchor="middle" fill="#222" textLength="4.32" lengthAdjust="spacingAndGlyphs"  stroke="#222" stroke-width="0.05">0</text>
<line x1="395.50" y1="339.60" x2="395.50" y2="342.40" stroke="#2a2a2a" stroke-width="1.1"/>
<text x="395.50" y="351.90" font-size="8.1" text-anchor="middle" fill="#222" textLength="8.65" lengthAdjust="spacingAndGlyphs"  stroke="#222" stroke-width="0.05">20</text>
<line x1="423.00" y1="339.60" x2="423.00" y2="342.40" stroke="#2a2a2a" stroke-width="1.1"/>
<text x="423.00" y="351.90" font-size="8.1" text-anchor="middle" fill="#222" textLength="8.65" lengthAdjust="spacingAndGlyphs"  stroke="#222" stroke-width="0.05">40</text>
<line x1="450.20" y1="339.60" x2="450.20" y2="342.40" stroke="#2a2a2a" stroke-width="1.1"/>
<text x="450.20" y="351.90" font-size="8.1" text-anchor="middle" fill="#222" textLength="8.65" lengthAdjust="spacingAndGlyphs"  stroke="#222" stroke-width="0.05">60</text>
<line x1="478.00" y1="339.60" x2="478.00" y2="342.40" stroke="#2a2a2a" stroke-width="1.1"/>
<text x="478.00" y="351.90" font-size="8.1" text-anchor="middle" fill="#222" textLength="8.65" lengthAdjust="spacingAndGlyphs"  stroke="#222" stroke-width="0.05">80</text>
<text x="383.50" y="364.90" font-size="9.5" text-anchor="start" fill="#222" textLength="82.00" lengthAdjust="spacingAndGlyphs"  stroke="#222" stroke-width="0.3">CCR7+CD45RA+ T cells (%)</text>
<text transform="translate(352.60,283.40) rotate(-90)" x="0" y="0" font-size="9.5" text-anchor="middle" fill="#222" textLength="58.50" lengthAdjust="spacingAndGlyphs" stroke="#222" stroke-width="0.3">Doubling time (days)</text>
<circle cx="372.50" cy="237.00" r="1.15" fill="#a3002b"/>
<circle cx="407.10" cy="237.00" r="1.15" fill="#a3002b"/>
<circle cx="385.40" cy="265.40" r="1.15" fill="#a3002b"/>
<circle cx="376.20" cy="274.60" r="1.15" fill="#a3002b"/>
<circle cx="377.90" cy="285.20" r="1.15" fill="#a3002b"/>
<circle cx="375.60" cy="287.50" r="1.15" fill="#a3002b"/>
<circle cx="386.80" cy="287.20" r="1.15" fill="#a3002b"/>
<circle cx="394.30" cy="288.40" r="1.15" fill="#a3002b"/>
<circle cx="370.40" cy="291.00" r="1.15" fill="#a3002b"/>
<circle cx="372.90" cy="291.00" r="1.15" fill="#a3002b"/>
<circle cx="377.90" cy="291.30" r="1.15" fill="#a3002b"/>
<circle cx="387.70" cy="291.50" r="1.15" fill="#a3002b"/>
<circle cx="390.00" cy="291.50" r="1.15" fill="#a3002b"/>
<circle cx="383.10" cy="292.90" r="1.15" fill="#a3002b"/>
<circle cx="402.90" cy="291.80" r="1.15" fill="#a3002b"/>
<circle cx="370.80" cy="297.50" r="1.15" fill="#a3002b"/>
<circle cx="386.50" cy="299.00" r="1.15" fill="#a3002b"/>
<circle cx="379.80" cy="299.40" r="1.15" fill="#a3002b"/>
<circle cx="377.50" cy="300.50" r="1.15" fill="#a3002b"/>
<circle cx="376.40" cy="301.90" r="1.15" fill="#a3002b"/>
<circle cx="375.20" cy="303.10" r="1.15" fill="#a3002b"/>
<circle cx="371.20" cy="303.10" r="1.15" fill="#a3002b"/>
<circle cx="395.40" cy="301.30" r="1.15" fill="#a3002b"/>
<circle cx="401.80" cy="302.80" r="1.15" fill="#a3002b"/>
<circle cx="404.10" cy="302.10" r="1.15" fill="#a3002b"/>
<circle cx="407.50" cy="301.30" r="1.15" fill="#a3002b"/>
<circle cx="413.10" cy="304.00" r="1.15" fill="#a3002b"/>
<circle cx="423.40" cy="301.90" r="1.15" fill="#a3002b"/>
<circle cx="374.70" cy="304.80" r="1.15" fill="#a3002b"/>
<circle cx="375.00" cy="306.00" r="1.15" fill="#a3002b"/>
<circle cx="379.30" cy="307.10" r="1.15" fill="#a3002b"/>
<circle cx="381.00" cy="307.70" r="1.15" fill="#a3002b"/>
<circle cx="382.70" cy="304.20" r="1.15" fill="#a3002b"/>
<circle cx="383.90" cy="305.60" r="1.15" fill="#a3002b"/>
<circle cx="385.00" cy="307.70" r="1.15" fill="#a3002b"/>
<circle cx="383.30" cy="308.80" r="1.15" fill="#a3002b"/>
<circle cx="388.50" cy="306.50" r="1.15" fill="#a3002b"/>
<circle cx="390.50" cy="307.50" r="1.15" fill="#a3002b"/>
<circle cx="394.80" cy="307.70" r="1.15" fill="#a3002b"/>
<circle cx="396.60" cy="306.30" r="1.15" fill="#a3002b"/>
<circle cx="399.40" cy="307.90" r="1.15" fill="#a3002b"/>
<circle cx="394.30" cy="309.40" r="1.15" fill="#a3002b"/>
<circle cx="396.00" cy="310.00" r="1.15" fill="#a3002b"/>
<circle cx="399.40" cy="310.20" r="1.15" fill="#a3002b"/>
<circle cx="420.40" cy="307.70" r="1.15" fill="#a3002b"/>
<circle cx="423.40" cy="308.60" r="1.15" fill="#a3002b"/>
<circle cx="375.00" cy="311.10" r="1.15" fill="#a3002b"/>
<circle cx="379.80" cy="312.90" r="1.15" fill="#a3002b"/>
<circle cx="387.00" cy="311.70" r="1.15" fill="#a3002b"/>
<circle cx="390.50" cy="311.10" r="1.15" fill="#a3002b"/>
<circle cx="392.00" cy="311.40" r="1.15" fill="#a3002b"/>
<circle cx="393.70" cy="312.90" r="1.15" fill="#a3002b"/>
<circle cx="402.90" cy="314.00" r="1.15" fill="#a3002b"/>
<circle cx="405.20" cy="312.90" r="1.15" fill="#a3002b"/>
<circle cx="415.00" cy="313.20" r="1.15" fill="#a3002b"/>
<circle cx="421.90" cy="313.20" r="1.15" fill="#a3002b"/>
<circle cx="383.90" cy="316.70" r="1.15" fill="#a3002b"/>
<circle cx="387.00" cy="314.80" r="1.15" fill="#a3002b"/>
<circle cx="392.80" cy="314.80" r="1.15" fill="#a3002b"/>
<circle cx="405.80" cy="316.70" r="1.15" fill="#a3002b"/>
<circle cx="439.10" cy="288.50" r="1.15" fill="#a3002b"/>
<circle cx="434.50" cy="305.60" r="1.15" fill="#a3002b"/>
<circle cx="440.50" cy="312.00" r="1.15" fill="#a3002b"/>
<circle cx="443.10" cy="312.60" r="1.15" fill="#a3002b"/>
<circle cx="448.90" cy="313.60" r="1.15" fill="#a3002b"/>
<circle cx="472.50" cy="316.30" r="1.15" fill="#a3002b"/>
<circle cx="421.30" cy="306.20" r="1.15" fill="#a3002b"/>
<circle cx="421.60" cy="313.00" r="1.15" fill="#a3002b"/>
<line x1="370.40" y1="299.00" x2="472.20" y2="313.90" stroke="#111" stroke-width="1.3"/>
<text x="371.60" y="328.90" font-size="7" text-anchor="start" fill="#222" textLength="103.70" lengthAdjust="spacingAndGlyphs"  stroke="#222" stroke-width="0.05">Spearman's correlation = -0.3837</text>
<text x="371.6" y="337.0" font-size="7" fill="#222" textLength="59.6" lengthAdjust="spacingAndGlyphs" stroke="#222" stroke-width="0.05"><tspan font-style="italic">P</tspan> = 0.0004, <tspan font-style="italic">n</tspan> = 91</text>
<text x="11" y="400.4" font-size="10.2" font-weight="bold" fill="#111" stroke="#111" stroke-width="0.55">G</text>
<line x1="40.70" y1="407.30" x2="40.70" y2="520.45" stroke="#2a2a2a" stroke-width="1.4"/>
<line x1="37.70" y1="410.00" x2="40.70" y2="410.00" stroke="#2a2a2a" stroke-width="1.1"/>
<text x="34.50" y="412.90" font-size="8.1" text-anchor="end" fill="#222" textLength="4.23" lengthAdjust="spacingAndGlyphs"  stroke="#222" stroke-width="0.05">5</text>
<line x1="37.70" y1="432.00" x2="40.70" y2="432.00" stroke="#2a2a2a" stroke-width="1.1"/>
<text x="34.50" y="434.90" font-size="8.1" text-anchor="end" fill="#222" textLength="4.23" lengthAdjust="spacingAndGlyphs"  stroke="#222" stroke-width="0.05">4</text>
<line x1="37.70" y1="454.00" x2="40.70" y2="454.00" stroke="#2a2a2a" stroke-width="1.1"/>
<text x="34.50" y="456.90" font-size="8.1" text-anchor="end" fill="#222" textLength="4.23" lengthAdjust="spacingAndGlyphs"  stroke="#222" stroke-width="0.05">3</text>
<line x1="37.70" y1="475.80" x2="40.70" y2="475.80" stroke="#2a2a2a" stroke-width="1.1"/>
<text x="34.50" y="478.70" font-size="8.1" text-anchor="end" fill="#222" textLength="4.23" lengthAdjust="spacingAndGlyphs"  stroke="#222" stroke-width="0.05">2</text>
<line x1="37.70" y1="497.70" x2="40.70" y2="497.70" stroke="#2a2a2a" stroke-width="1.1"/>
<text x="34.50" y="500.60" font-size="8.1" text-anchor="end" fill="#222" textLength="4.23" lengthAdjust="spacingAndGlyphs"  stroke="#222" stroke-width="0.05">1</text>
<line x1="37.70" y1="519.80" x2="40.70" y2="519.80" stroke="#2a2a2a" stroke-width="1.1"/>
<text x="34.50" y="522.70" font-size="8.1" text-anchor="end" fill="#222" textLength="4.23" lengthAdjust="spacingAndGlyphs"  stroke="#222" stroke-width="0.05">0</text>
<line x1="37.90" y1="519.80" x2="153.50" y2="519.80" stroke="#2a2a2a" stroke-width="1.4"/>
<line x1="40.70" y1="519.80" x2="40.70" y2="522.60" stroke="#2a2a2a" stroke-width="1.1"/>
<text x="40.70" y="533.00" font-size="8.1" text-anchor="middle" fill="#222" textLength="4.32" lengthAdjust="spacingAndGlyphs"  stroke="#222" stroke-width="0.05">0</text>
<line x1="77.60" y1="519.80" x2="77.60" y2="522.60" stroke="#2a2a2a" stroke-width="1.1"/>
<text x="77.60" y="533.00" font-size="8.1" text-anchor="middle" fill="#222" textLength="8.65" lengthAdjust="spacingAndGlyphs"  stroke="#222" stroke-width="0.05">20</text>
<line x1="113.90" y1="519.80" x2="113.90" y2="522.60" stroke="#2a2a2a" stroke-width="1.1"/>
<text x="113.90" y="533.00" font-size="8.1" text-anchor="middle" fill="#222" textLength="8.65" lengthAdjust="spacingAndGlyphs"  stroke="#222" stroke-width="0.05">40</text>
<line x1="150.70" y1="519.80" x2="150.70" y2="522.60" stroke="#2a2a2a" stroke-width="1.1"/>
<text x="150.70" y="533.00" font-size="8.1" text-anchor="middle" fill="#222" textLength="8.65" lengthAdjust="spacingAndGlyphs"  stroke="#222" stroke-width="0.05">60</text>
<text x="57.30" y="545.50" font-size="9.5" text-anchor="start" fill="#222" textLength="79.50" lengthAdjust="spacingAndGlyphs"  stroke="#222" stroke-width="0.3">CCR7+CD45RA- T cells (%)</text>
<text transform="translate(25.50,463.55) rotate(-90)" x="0" y="0" font-size="9.5" text-anchor="middle" fill="#222" textLength="58.50" lengthAdjust="spacingAndGlyphs" stroke="#222" stroke-width="0.3">Doubling time (days)</text>
<circle cx="62.40" cy="417.20" r="1.15" fill="#a3002b"/>
<circle cx="103.00" cy="417.20" r="1.15" fill="#a3002b"/>
<circle cx="64.70" cy="445.90" r="1.15" fill="#a3002b"/>
<circle cx="73.00" cy="455.30" r="1.15" fill="#a3002b"/>
<circle cx="67.90" cy="465.80" r="1.15" fill="#a3002b"/>
<circle cx="65.00" cy="471.50" r="1.15" fill="#a3002b"/>
<circle cx="76.90" cy="469.00" r="1.15" fill="#a3002b"/>
<circle cx="80.60" cy="468.10" r="1.15" fill="#a3002b"/>
<circle cx="87.10" cy="467.80" r="1.15" fill="#a3002b"/>
<circle cx="81.20" cy="472.10" r="1.15" fill="#a3002b"/>
<circle cx="81.80" cy="473.60" r="1.15" fill="#a3002b"/>
<circle cx="96.50" cy="472.10" r="1.15" fill="#a3002b"/>
<circle cx="69.40" cy="477.90" r="1.15" fill="#a3002b"/>
<circle cx="66.80" cy="480.50" r="1.15" fill="#a3002b"/>
<circle cx="83.80" cy="479.80" r="1.15" fill="#a3002b"/>
<circle cx="76.10" cy="481.90" r="1.15" fill="#a3002b"/>
<circle cx="78.60" cy="483.10" r="1.15" fill="#a3002b"/>
<circle cx="80.40" cy="483.60" r="1.15" fill="#a3002b"/>
<circle cx="82.10" cy="484.20" r="1.15" fill="#a3002b"/>
<circle cx="85.00" cy="482.50" r="1.15" fill="#a3002b"/>
<circle cx="91.90" cy="481.30" r="1.15" fill="#a3002b"/>
<circle cx="93.60" cy="480.80" r="1.15" fill="#a3002b"/>
<circle cx="96.50" cy="481.90" r="1.15" fill="#a3002b"/>
<circle cx="98.80" cy="481.90" r="1.15" fill="#a3002b"/>
<circle cx="79.20" cy="485.10" r="1.15" fill="#a3002b"/>
<circle cx="76.90" cy="487.10" r="1.15" fill="#a3002b"/>
<circle cx="75.80" cy="488.30" r="1.15" fill="#a3002b"/>
<circle cx="77.10" cy="488.80" r="1.15" fill="#a3002b"/>
<circle cx="83.80" cy="486.50" r="1.15" fill="#a3002b"/>
<circle cx="82.70" cy="488.60" r="1.15" fill="#a3002b"/>
<circle cx="85.60" cy="486.00" r="1.15" fill="#a3002b"/>
<circle cx="87.90" cy="485.40" r="1.15" fill="#a3002b"/>
<circle cx="90.70" cy="487.10" r="1.15" fill="#a3002b"/>
<circle cx="92.50" cy="484.80" r="1.15" fill="#a3002b"/>
<circle cx="93.60" cy="486.00" r="1.15" fill="#a3002b"/>
<circle cx="95.90" cy="486.00" r="1.15" fill="#a3002b"/>
<circle cx="90.70" cy="489.40" r="1.15" fill="#a3002b"/>
<circle cx="94.80" cy="490.20" r="1.15" fill="#a3002b"/>
<circle cx="98.80" cy="488.60" r="1.15" fill="#a3002b"/>
<circle cx="64.80" cy="487.70" r="1.15" fill="#a3002b"/>
<circle cx="69.10" cy="488.80" r="1.15" fill="#a3002b"/>
<circle cx="70.20" cy="487.90" r="1.15" fill="#a3002b"/>
<circle cx="73.40" cy="492.10" r="1.15" fill="#a3002b"/>
<circle cx="67.70" cy="492.90" r="1.15" fill="#a3002b"/>
<circle cx="66.30" cy="494.00" r="1.15" fill="#a3002b"/>
<circle cx="69.40" cy="493.40" r="1.15" fill="#a3002b"/>
<circle cx="70.20" cy="495.50" r="1.15" fill="#a3002b"/>
<circle cx="78.10" cy="492.90" r="1.15" fill="#a3002b"/>
<circle cx="78.60" cy="494.00" r="1.15" fill="#a3002b"/>
<circle cx="95.40" cy="492.90" r="1.15" fill="#a3002b"/>
<circle cx="96.50" cy="493.70" r="1.15" fill="#a3002b"/>
<circle cx="57.30" cy="496.90" r="1.15" fill="#a3002b"/>
<circle cx="85.00" cy="495.80" r="1.15" fill="#a3002b"/>
<circle cx="89.00" cy="497.10" r="1.15" fill="#a3002b"/>
<circle cx="92.80" cy="497.10" r="1.15" fill="#a3002b"/>
<circle cx="112.10" cy="469.00" r="1.15" fill="#a3002b"/>
<circle cx="101.90" cy="471.90" r="1.15" fill="#a3002b"/>
<circle cx="118.10" cy="471.50" r="1.15" fill="#a3002b"/>
<circle cx="125.60" cy="471.90" r="1.15" fill="#a3002b"/>
<circle cx="131.00" cy="479.80" r="1.15" fill="#a3002b"/>
<circle cx="100.80" cy="481.90" r="1.15" fill="#a3002b"/>
<circle cx="105.00" cy="484.20" r="1.15" fill="#a3002b"/>
<circle cx="111.70" cy="484.00" r="1.15" fill="#a3002b"/>
<circle cx="114.80" cy="484.20" r="1.15" fill="#a3002b"/>
<circle cx="119.80" cy="483.10" r="1.15" fill="#a3002b"/>
<circle cx="129.80" cy="483.60" r="1.15" fill="#a3002b"/>
<circle cx="112.90" cy="487.30" r="1.15" fill="#a3002b"/>
<circle cx="127.90" cy="488.30" r="1.15" fill="#a3002b"/>
<circle cx="130.20" cy="488.30" r="1.15" fill="#a3002b"/>
<circle cx="132.50" cy="491.10" r="1.15" fill="#a3002b"/>
<circle cx="102.50" cy="491.10" r="1.15" fill="#a3002b"/>
<circle cx="110.00" cy="490.90" r="1.15" fill="#a3002b"/>
<circle cx="111.70" cy="491.70" r="1.15" fill="#a3002b"/>
<circle cx="110.00" cy="493.70" r="1.15" fill="#a3002b"/>
<circle cx="116.30" cy="493.70" r="1.15" fill="#a3002b"/>
<circle cx="99.80" cy="494.60" r="1.15" fill="#a3002b"/>
<circle cx="96.70" cy="490.60" r="1.15" fill="#a3002b"/>
<line x1="57.30" y1="481.00" x2="132.10" y2="486.00" stroke="#111" stroke-width="1.3"/>
<text x="43.80" y="508.30" font-size="7" text-anchor="start" fill="#222" textLength="104.20" lengthAdjust="spacingAndGlyphs"  stroke="#222" stroke-width="0.05">Spearman's correlation = -0.0048</text>
<text x="43.8" y="516.6" font-size="7" fill="#222" textLength="60.4" lengthAdjust="spacingAndGlyphs" stroke="#222" stroke-width="0.05"><tspan font-style="italic">P</tspan> = 0.9644, n = 91</text>
<text x="182" y="400.4" font-size="10.2" font-weight="bold" fill="#111" stroke="#111" stroke-width="0.55">H</text>
<line x1="205.00" y1="407.30" x2="205.00" y2="520.45" stroke="#2a2a2a" stroke-width="1.4"/>
<line x1="202.00" y1="410.00" x2="205.00" y2="410.00" stroke="#2a2a2a" stroke-width="1.1"/>
<text x="198.80" y="412.90" font-size="8.1" text-anchor="end" fill="#222" textLength="4.23" lengthAdjust="spacingAndGlyphs"  stroke="#222" stroke-width="0.05">5</text>
<line x1="202.00" y1="432.00" x2="205.00" y2="432.00" stroke="#2a2a2a" stroke-width="1.1"/>
<text x="198.80" y="434.90" font-size="8.1" text-anchor="end" fill="#222" textLength="4.23" lengthAdjust="spacingAndGlyphs"  stroke="#222" stroke-width="0.05">4</text>
<line x1="202.00" y1="454.00" x2="205.00" y2="454.00" stroke="#2a2a2a" stroke-width="1.1"/>
<text x="198.80" y="456.90" font-size="8.1" text-anchor="end" fill="#222" textLength="4.23" lengthAdjust="spacingAndGlyphs"  stroke="#222" stroke-width="0.05">3</text>
<line x1="202.00" y1="475.80" x2="205.00" y2="475.80" stroke="#2a2a2a" stroke-width="1.1"/>
<text x="198.80" y="478.70" font-size="8.1" text-anchor="end" fill="#222" textLength="4.23" lengthAdjust="spacingAndGlyphs"  stroke="#222" stroke-width="0.05">2</text>
<line x1="202.00" y1="497.70" x2="205.00" y2="497.70" stroke="#2a2a2a" stroke-width="1.1"/>
<text x="198.80" y="500.60" font-size="8.1" text-anchor="end" fill="#222" textLength="4.23" lengthAdjust="spacingAndGlyphs"  stroke="#222" stroke-width="0.05">1</text>
<line x1="202.00" y1="519.80" x2="205.00" y2="519.80" stroke="#2a2a2a" stroke-width="1.1"/>
<text x="198.80" y="522.70" font-size="8.1" text-anchor="end" fill="#222" textLength="4.23" lengthAdjust="spacingAndGlyphs"  stroke="#222" stroke-width="0.05">0</text>
<line x1="202.20" y1="519.80" x2="317.70" y2="519.80" stroke="#2a2a2a" stroke-width="1.4"/>
<line x1="205.00" y1="519.80" x2="205.00" y2="522.60" stroke="#2a2a2a" stroke-width="1.1"/>
<text x="205.00" y="533.00" font-size="8.1" text-anchor="middle" fill="#222" textLength="4.32" lengthAdjust="spacingAndGlyphs"  stroke="#222" stroke-width="0.05">0</text>
<line x1="226.90" y1="519.80" x2="226.90" y2="522.60" stroke="#2a2a2a" stroke-width="1.1"/>
<text x="226.90" y="533.00" font-size="8.1" text-anchor="middle" fill="#222" textLength="8.65" lengthAdjust="spacingAndGlyphs"  stroke="#222" stroke-width="0.05">10</text>
<line x1="248.90" y1="519.80" x2="248.90" y2="522.60" stroke="#2a2a2a" stroke-width="1.1"/>
<text x="248.90" y="533.00" font-size="8.1" text-anchor="middle" fill="#222" textLength="8.65" lengthAdjust="spacingAndGlyphs"  stroke="#222" stroke-width="0.05">20</text>
<line x1="271.00" y1="519.80" x2="271.00" y2="522.60" stroke="#2a2a2a" stroke-width="1.1"/>
<text x="271.00" y="533.00" font-size="8.1" text-anchor="middle" fill="#222" textLength="8.65" lengthAdjust="spacingAndGlyphs"  stroke="#222" stroke-width="0.05">30</text>
<line x1="292.80" y1="519.80" x2="292.80" y2="522.60" stroke="#2a2a2a" stroke-width="1.1"/>
<text x="292.80" y="533.00" font-size="8.1" text-anchor="middle" fill="#222" textLength="8.65" lengthAdjust="spacingAndGlyphs"  stroke="#222" stroke-width="0.05">40</text>
<line x1="314.90" y1="519.80" x2="314.90" y2="522.60" stroke="#2a2a2a" stroke-width="1.1"/>
<text x="314.90" y="533.00" font-size="8.1" text-anchor="middle" fill="#222" textLength="8.65" lengthAdjust="spacingAndGlyphs"  stroke="#222" stroke-width="0.05">50</text>
<text x="222.00" y="545.50" font-size="9.5" text-anchor="start" fill="#222" textLength="78.80" lengthAdjust="spacingAndGlyphs"  stroke="#222" stroke-width="0.3">CCR7-CD45RA+ T cells (%)</text>
<text transform="translate(190.00,463.55) rotate(-90)" x="0" y="0" font-size="9.5" text-anchor="middle" fill="#222" textLength="58.50" lengthAdjust="spacingAndGlyphs" stroke="#222" stroke-width="0.3">Doubling time (days)</text>
<circle cx="222.30" cy="417.20" r="1.15" fill="#a3002b"/>
<circle cx="237.30" cy="417.20" r="1.15" fill="#a3002b"/>
<circle cx="252.30" cy="445.90" r="1.15" fill="#a3002b"/>
<circle cx="245.90" cy="455.30" r="1.15" fill="#a3002b"/>
<circle cx="247.70" cy="465.80" r="1.15" fill="#a3002b"/>
<circle cx="251.70" cy="467.80" r="1.15" fill="#a3002b"/>
<circle cx="231.30" cy="467.80" r="1.15" fill="#a3002b"/>
<circle cx="218.60" cy="469.00" r="1.15" fill="#a3002b"/>
<circle cx="222.90" cy="469.00" r="1.15" fill="#a3002b"/>
<circle cx="215.10" cy="471.50" r="1.15" fill="#a3002b"/>
<circle cx="216.30" cy="472.50" r="1.15" fill="#a3002b"/>
<circle cx="225.20" cy="471.90" r="1.15" fill="#a3002b"/>
<circle cx="241.10" cy="471.30" r="1.15" fill="#a3002b"/>
<circle cx="249.40" cy="471.90" r="1.15" fill="#a3002b"/>
<circle cx="246.00" cy="473.60" r="1.15" fill="#a3002b"/>
<circle cx="240.00" cy="477.90" r="1.15" fill="#a3002b"/>
<circle cx="218.80" cy="479.60" r="1.15" fill="#a3002b"/>
<circle cx="220.60" cy="481.30" r="1.15" fill="#a3002b"/>
<circle cx="222.30" cy="481.90" r="1.15" fill="#a3002b"/>
<circle cx="224.00" cy="483.10" r="1.15" fill="#a3002b"/>
<circle cx="225.20" cy="483.60" r="1.15" fill="#a3002b"/>
<circle cx="229.80" cy="484.50" r="1.15" fill="#a3002b"/>
<circle cx="233.80" cy="482.80" r="1.15" fill="#a3002b"/>
<circle cx="235.20" cy="484.50" r="1.15" fill="#a3002b"/>
<circle cx="239.60" cy="482.50" r="1.15" fill="#a3002b"/>
<circle cx="241.70" cy="481.90" r="1.15" fill="#a3002b"/>
<circle cx="245.40" cy="481.70" r="1.15" fill="#a3002b"/>
<circle cx="249.40" cy="484.80" r="1.15" fill="#a3002b"/>
<circle cx="255.70" cy="483.10" r="1.15" fill="#a3002b"/>
<circle cx="260.90" cy="482.50" r="1.15" fill="#a3002b"/>
<circle cx="222.90" cy="486.50" r="1.15" fill="#a3002b"/>
<circle cx="220.00" cy="488.30" r="1.15" fill="#a3002b"/>
<circle cx="231.00" cy="487.70" r="1.15" fill="#a3002b"/>
<circle cx="233.30" cy="485.60" r="1.15" fill="#a3002b"/>
<circle cx="236.10" cy="486.00" r="1.15" fill="#a3002b"/>
<circle cx="240.20" cy="486.50" r="1.15" fill="#a3002b"/>
<circle cx="243.10" cy="487.90" r="1.15" fill="#a3002b"/>
<circle cx="244.80" cy="487.10" r="1.15" fill="#a3002b"/>
<circle cx="246.50" cy="488.30" r="1.15" fill="#a3002b"/>
<circle cx="248.30" cy="487.70" r="1.15" fill="#a3002b"/>
<circle cx="251.70" cy="487.50" r="1.15" fill="#a3002b"/>
<circle cx="253.40" cy="488.60" r="1.15" fill="#a3002b"/>
<circle cx="259.20" cy="488.30" r="1.15" fill="#a3002b"/>
<circle cx="262.70" cy="489.40" r="1.15" fill="#a3002b"/>
<circle cx="227.50" cy="490.20" r="1.15" fill="#a3002b"/>
<circle cx="229.20" cy="490.00" r="1.15" fill="#a3002b"/>
<circle cx="218.80" cy="491.10" r="1.15" fill="#a3002b"/>
<circle cx="216.50" cy="492.90" r="1.15" fill="#a3002b"/>
<circle cx="222.30" cy="492.30" r="1.15" fill="#a3002b"/>
<circle cx="224.00" cy="492.60" r="1.15" fill="#a3002b"/>
<circle cx="221.10" cy="494.00" r="1.15" fill="#a3002b"/>
<circle cx="226.90" cy="493.40" r="1.15" fill="#a3002b"/>
<circle cx="232.10" cy="493.70" r="1.15" fill="#a3002b"/>
<circle cx="234.40" cy="494.40" r="1.15" fill="#a3002b"/>
<circle cx="235.90" cy="495.20" r="1.15" fill="#a3002b"/>
<circle cx="238.40" cy="491.70" r="1.15" fill="#a3002b"/>
<circle cx="239.60" cy="493.40" r="1.15" fill="#a3002b"/>
<circle cx="255.20" cy="493.70" r="1.15" fill="#a3002b"/>
<circle cx="226.90" cy="496.90" r="1.15" fill="#a3002b"/>
<circle cx="237.90" cy="496.90" r="1.15" fill="#a3002b"/>
<circle cx="249.80" cy="497.10" r="1.15" fill="#a3002b"/>
<circle cx="265.80" cy="479.80" r="1.15" fill="#a3002b"/>
<circle cx="286.00" cy="480.20" r="1.15" fill="#a3002b"/>
<circle cx="266.90" cy="492.30" r="1.15" fill="#a3002b"/>
<circle cx="268.30" cy="492.30" r="1.15" fill="#a3002b"/>
<circle cx="273.80" cy="489.40" r="1.15" fill="#a3002b"/>
<circle cx="279.00" cy="488.60" r="1.15" fill="#a3002b"/>
<circle cx="279.80" cy="487.70" r="1.15" fill="#a3002b"/>
<circle cx="288.80" cy="492.90" r="1.15" fill="#a3002b"/>
<circle cx="290.90" cy="495.80" r="1.15" fill="#a3002b"/>
<line x1="215.60" y1="480.20" x2="290.90" y2="488.80" stroke="#111" stroke-width="1.3"/>
<text x="208.50" y="509.90" font-size="7" text-anchor="start" fill="#222" textLength="104.10" lengthAdjust="spacingAndGlyphs"  stroke="#222" stroke-width="0.05">Spearman's correlation = -0.1339</text>
<text x="208.5" y="518.0" font-size="7" fill="#222" textLength="59.5" lengthAdjust="spacingAndGlyphs" stroke="#222" stroke-width="0.05"><tspan font-style="italic">P</tspan> = 0.2083, n = 91</text>
<text x="345" y="400.4" font-size="10.2" font-weight="bold" fill="#111" stroke="#111" stroke-width="0.55">I</text>
<line x1="368.20" y1="403.00" x2="368.20" y2="520.15" stroke="#2a2a2a" stroke-width="1.4"/>
<line x1="365.20" y1="409.20" x2="368.20" y2="409.20" stroke="#2a2a2a" stroke-width="1.1"/>
<text x="362.00" y="412.10" font-size="8.1" text-anchor="end" fill="#222" textLength="4.23" lengthAdjust="spacingAndGlyphs"  stroke="#222" stroke-width="0.05">5</text>
<line x1="365.20" y1="431.30" x2="368.20" y2="431.30" stroke="#2a2a2a" stroke-width="1.1"/>
<text x="362.00" y="434.20" font-size="8.1" text-anchor="end" fill="#222" textLength="4.23" lengthAdjust="spacingAndGlyphs"  stroke="#222" stroke-width="0.05">4</text>
<line x1="365.20" y1="453.30" x2="368.20" y2="453.30" stroke="#2a2a2a" stroke-width="1.1"/>
<text x="362.00" y="456.20" font-size="8.1" text-anchor="end" fill="#222" textLength="4.23" lengthAdjust="spacingAndGlyphs"  stroke="#222" stroke-width="0.05">3</text>
<line x1="365.20" y1="475.20" x2="368.20" y2="475.20" stroke="#2a2a2a" stroke-width="1.1"/>
<text x="362.00" y="478.10" font-size="8.1" text-anchor="end" fill="#222" textLength="4.23" lengthAdjust="spacingAndGlyphs"  stroke="#222" stroke-width="0.05">2</text>
<line x1="365.20" y1="497.40" x2="368.20" y2="497.40" stroke="#2a2a2a" stroke-width="1.1"/>
<text x="362.00" y="500.30" font-size="8.1" text-anchor="end" fill="#222" textLength="4.23" lengthAdjust="spacingAndGlyphs"  stroke="#222" stroke-width="0.05">1</text>
<line x1="365.20" y1="519.50" x2="368.20" y2="519.50" stroke="#2a2a2a" stroke-width="1.1"/>
<text x="362.00" y="522.40" font-size="8.1" text-anchor="end" fill="#222" textLength="4.23" lengthAdjust="spacingAndGlyphs"  stroke="#222" stroke-width="0.05">0</text>
<line x1="365.40" y1="519.50" x2="482.00" y2="519.50" stroke="#2a2a2a" stroke-width="1.4"/>
<line x1="368.20" y1="519.50" x2="368.20" y2="522.30" stroke="#2a2a2a" stroke-width="1.1"/>
<text x="368.20" y="533.00" font-size="8.1" text-anchor="middle" fill="#222" textLength="4.32" lengthAdjust="spacingAndGlyphs"  stroke="#222" stroke-width="0.05">0</text>
<line x1="395.80" y1="519.50" x2="395.80" y2="522.30" stroke="#2a2a2a" stroke-width="1.1"/>
<text x="395.80" y="533.00" font-size="8.1" text-anchor="middle" fill="#222" textLength="4.32" lengthAdjust="spacingAndGlyphs"  stroke="#222" stroke-width="0.05">2</text>
<line x1="423.20" y1="519.50" x2="423.20" y2="522.30" stroke="#2a2a2a" stroke-width="1.1"/>
<text x="423.20" y="533.00" font-size="8.1" text-anchor="middle" fill="#222" textLength="4.32" lengthAdjust="spacingAndGlyphs"  stroke="#222" stroke-width="0.05">4</text>
<line x1="451.50" y1="519.50" x2="451.50" y2="522.30" stroke="#2a2a2a" stroke-width="1.1"/>
<text x="451.50" y="533.00" font-size="8.1" text-anchor="middle" fill="#222" textLength="4.32" lengthAdjust="spacingAndGlyphs"  stroke="#222" stroke-width="0.05">6</text>
<line x1="478.80" y1="519.50" x2="478.80" y2="522.30" stroke="#2a2a2a" stroke-width="1.1"/>
<text x="478.80" y="533.00" font-size="8.1" text-anchor="middle" fill="#222" textLength="4.32" lengthAdjust="spacingAndGlyphs"  stroke="#222" stroke-width="0.05">8</text>
<text x="396.50" y="545.50" font-size="9.5" text-anchor="start" fill="#222" textLength="57.30" lengthAdjust="spacingAndGlyphs"  stroke="#222" stroke-width="0.3">CD4:CD8 T cell ratio</text>
<text transform="translate(352.60,461.25) rotate(-90)" x="0" y="0" font-size="9.5" text-anchor="middle" fill="#222" textLength="58.50" lengthAdjust="spacingAndGlyphs" stroke="#222" stroke-width="0.3">Doubling time (days)</text>
<circle cx="371.80" cy="416.60" r="1.15" fill="#a3002b"/>
<circle cx="393.70" cy="416.60" r="1.15" fill="#a3002b"/>
<circle cx="379.90" cy="445.50" r="1.15" fill="#a3002b"/>
<circle cx="373.60" cy="455.00" r="1.15" fill="#a3002b"/>
<circle cx="378.30" cy="465.60" r="1.15" fill="#a3002b"/>
<circle cx="375.00" cy="467.50" r="1.15" fill="#a3002b"/>
<circle cx="375.80" cy="468.80" r="1.15" fill="#a3002b"/>
<circle cx="392.30" cy="467.10" r="1.15" fill="#a3002b"/>
<circle cx="404.10" cy="468.60" r="1.15" fill="#a3002b"/>
<circle cx="369.80" cy="470.90" r="1.15" fill="#a3002b"/>
<circle cx="373.20" cy="473.10" r="1.15" fill="#a3002b"/>
<circle cx="378.90" cy="471.10" r="1.15" fill="#a3002b"/>
<circle cx="386.80" cy="471.40" r="1.15" fill="#a3002b"/>
<circle cx="398.60" cy="471.70" r="1.15" fill="#a3002b"/>
<circle cx="412.10" cy="471.70" r="1.15" fill="#a3002b"/>
<circle cx="370.00" cy="477.80" r="1.15" fill="#a3002b"/>
<circle cx="370.80" cy="479.80" r="1.15" fill="#a3002b"/>
<circle cx="377.50" cy="479.50" r="1.15" fill="#a3002b"/>
<circle cx="388.80" cy="480.10" r="1.15" fill="#a3002b"/>
<circle cx="405.20" cy="479.50" r="1.15" fill="#a3002b"/>
<circle cx="375.20" cy="481.80" r="1.15" fill="#a3002b"/>
<circle cx="378.70" cy="481.80" r="1.15" fill="#a3002b"/>
<circle cx="398.30" cy="481.80" r="1.15" fill="#a3002b"/>
<circle cx="409.60" cy="482.10" r="1.15" fill="#a3002b"/>
<circle cx="413.30" cy="481.80" r="1.15" fill="#a3002b"/>
<circle cx="421.10" cy="482.70" r="1.15" fill="#a3002b"/>
<circle cx="371.80" cy="483.80" r="1.15" fill="#a3002b"/>
<circle cx="374.10" cy="484.40" r="1.15" fill="#a3002b"/>
<circle cx="377.00" cy="483.60" r="1.15" fill="#a3002b"/>
<circle cx="379.80" cy="483.80" r="1.15" fill="#a3002b"/>
<circle cx="383.30" cy="483.30" r="1.15" fill="#a3002b"/>
<circle cx="386.80" cy="483.80" r="1.15" fill="#a3002b"/>
<circle cx="391.40" cy="483.60" r="1.15" fill="#a3002b"/>
<circle cx="398.90" cy="484.40" r="1.15" fill="#a3002b"/>
<circle cx="371.50" cy="486.10" r="1.15" fill="#a3002b"/>
<circle cx="374.70" cy="485.60" r="1.15" fill="#a3002b"/>
<circle cx="377.50" cy="486.10" r="1.15" fill="#a3002b"/>
<circle cx="379.80" cy="487.30" r="1.15" fill="#a3002b"/>
<circle cx="372.90" cy="487.50" r="1.15" fill="#a3002b"/>
<circle cx="376.10" cy="487.90" r="1.15" fill="#a3002b"/>
<circle cx="378.10" cy="488.40" r="1.15" fill="#a3002b"/>
<circle cx="384.50" cy="487.90" r="1.15" fill="#a3002b"/>
<circle cx="390.20" cy="485.90" r="1.15" fill="#a3002b"/>
<circle cx="394.30" cy="487.50" r="1.15" fill="#a3002b"/>
<circle cx="400.60" cy="486.10" r="1.15" fill="#a3002b"/>
<circle cx="408.10" cy="486.70" r="1.15" fill="#a3002b"/>
<circle cx="420.80" cy="485.90" r="1.15" fill="#a3002b"/>
<circle cx="370.60" cy="489.00" r="1.15" fill="#a3002b"/>
<circle cx="379.80" cy="489.40" r="1.15" fill="#a3002b"/>
<circle cx="383.30" cy="488.40" r="1.15" fill="#a3002b"/>
<circle cx="386.80" cy="489.60" r="1.15" fill="#a3002b"/>
<circle cx="389.10" cy="488.20" r="1.15" fill="#a3002b"/>
<circle cx="398.10" cy="489.00" r="1.15" fill="#a3002b"/>
<circle cx="374.10" cy="491.70" r="1.15" fill="#a3002b"/>
<circle cx="378.50" cy="492.10" r="1.15" fill="#a3002b"/>
<circle cx="383.30" cy="493.10" r="1.15" fill="#a3002b"/>
<circle cx="368.50" cy="492.80" r="1.15" fill="#a3002b"/>
<circle cx="395.80" cy="491.70" r="1.15" fill="#a3002b"/>
<circle cx="399.20" cy="493.60" r="1.15" fill="#a3002b"/>
<circle cx="402.70" cy="493.30" r="1.15" fill="#a3002b"/>
<circle cx="417.90" cy="492.50" r="1.15" fill="#a3002b"/>
<circle cx="372.30" cy="492.50" r="1.15" fill="#a3002b"/>
<circle cx="375.80" cy="494.20" r="1.15" fill="#a3002b"/>
<circle cx="383.90" cy="495.10" r="1.15" fill="#a3002b"/>
<circle cx="386.50" cy="494.80" r="1.15" fill="#a3002b"/>
<circle cx="368.30" cy="496.80" r="1.15" fill="#a3002b"/>
<circle cx="378.10" cy="496.80" r="1.15" fill="#a3002b"/>
<circle cx="389.60" cy="496.80" r="1.15" fill="#a3002b"/>
<circle cx="448.50" cy="471.80" r="1.15" fill="#a3002b"/>
<circle cx="439.90" cy="481.00" r="1.15" fill="#a3002b"/>
<circle cx="431.20" cy="491.60" r="1.15" fill="#a3002b"/>
<circle cx="435.50" cy="491.10" r="1.15" fill="#a3002b"/>
<line x1="368.50" y1="482.90" x2="448.50" y2="483.10" stroke="#111" stroke-width="1.3"/>
<text x="371.20" y="507.90" font-size="7" text-anchor="start" fill="#222" textLength="101.80" lengthAdjust="spacingAndGlyphs"  stroke="#222" stroke-width="0.05">Spearman's correlation = 0.0315</text>
<text x="371.2" y="516.6" font-size="7" fill="#222" textLength="54.9" lengthAdjust="spacingAndGlyphs" stroke="#222" stroke-width="0.05"><tspan font-style="italic">P</tspan> = 0.768, n = 91</text>
<rect x="0.6" y="0.6" width="518.8" height="553.8" fill="none" stroke="#111" stroke-width="1.3"/>
</svg>
</body></html>
